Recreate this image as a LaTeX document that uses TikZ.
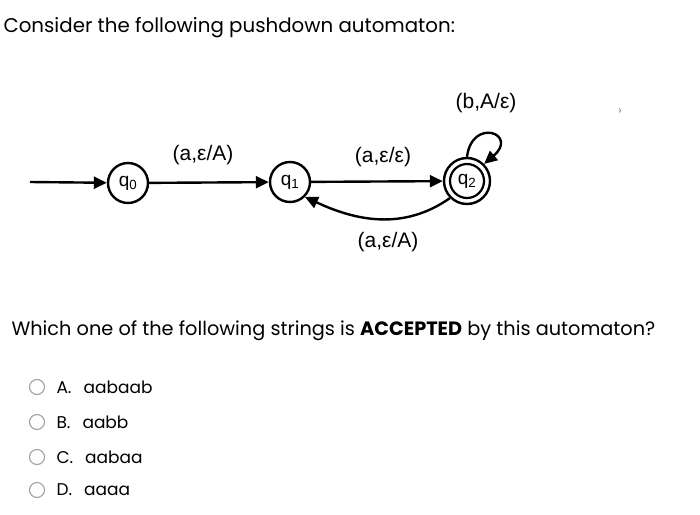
\documentclass[tikz,border=0pt]{standalone}
\usepackage{fontspec}
\setmainfont{Poppins}
\newfontfamily\lblf{Liberation Sans}
\usetikzlibrary{arrows.meta}
\begin{document}
\begin{tikzpicture}[x=1pt,y=-1pt,
  st/.style={circle,draw,line width=2.4pt,minimum size=40pt,inner sep=0pt,font=\lblf\fontsize{19}{19}\selectfont},
  tr/.style={line width=2.4pt,-{Triangle[length=13pt,width=12pt]}},
  lbl/.style={font=\lblf\fontsize{21}{21}\selectfont},
  txt/.style={anchor=west,font=\fontsize{19.8}{22}\selectfont},
  opt/.style={anchor=west,font=\fontsize{17}{18}\selectfont},
  radio/.style={circle,draw=gray!70,line width=1.2pt,minimum size=15pt,inner sep=0pt}]
\useasboundingbox (0,0) rectangle (700,514);
\node[txt] (title) at (0,28) {Consider the following pushdown automaton:};
\node[st] (q0) at (128,183) {q\textsubscript{0}};
\node[st] (q1) at (290,182) {q\textsubscript{1}};
\node[st,minimum size=46pt] (q2) at (467,181) {};
\node[circle,draw,line width=2.2pt,minimum size=34pt,inner sep=0pt,font=\lblf\fontsize{19}{19}\selectfont] (q2i) at (q2) {q\textsubscript{2}};
\coordinate (start) at (30,182);
\draw[tr] (start) -- (q0);
\draw[tr] (q0) -- (q1);
\draw[tr] (q1) -- (q2);
\draw[tr] (q2.south west) to[out=215,in=-25] (q1.south east);
\draw[tr] (q2.north) .. controls +(5,-40) and +(35,-30) .. (q2.north east);
\node[lbl] (l01) at (203,155) {(a,ε/A)};
\node[lbl] (l12) at (383,157) {(a,ε/ε)};
\node[lbl] (l21) at (388,242) {(a,ε/A)};
\node[lbl] (l22) at (486,103) {(b,A/ε)};
\node[text=gray,font=\fontsize{12}{12}\selectfont] (chev) at (620,112) {›};
\node[txt,font=\fontsize{19.3}{22}\selectfont] (q) at (8,331) {Which one of the following strings is \textbf{ACCEPTED} by this automaton?};
\foreach \y/\l/\w [count=\i] in {387/A./aabaab,422/B./aabb,457/C./aabaa,490/D./aaaa}{
  \node[radio] (r\i) at (37,\y) {};
  \node[opt] (o\i) at (53,\y) {\l\hspace{12pt}\w};
}
\end{tikzpicture}
\end{document}
